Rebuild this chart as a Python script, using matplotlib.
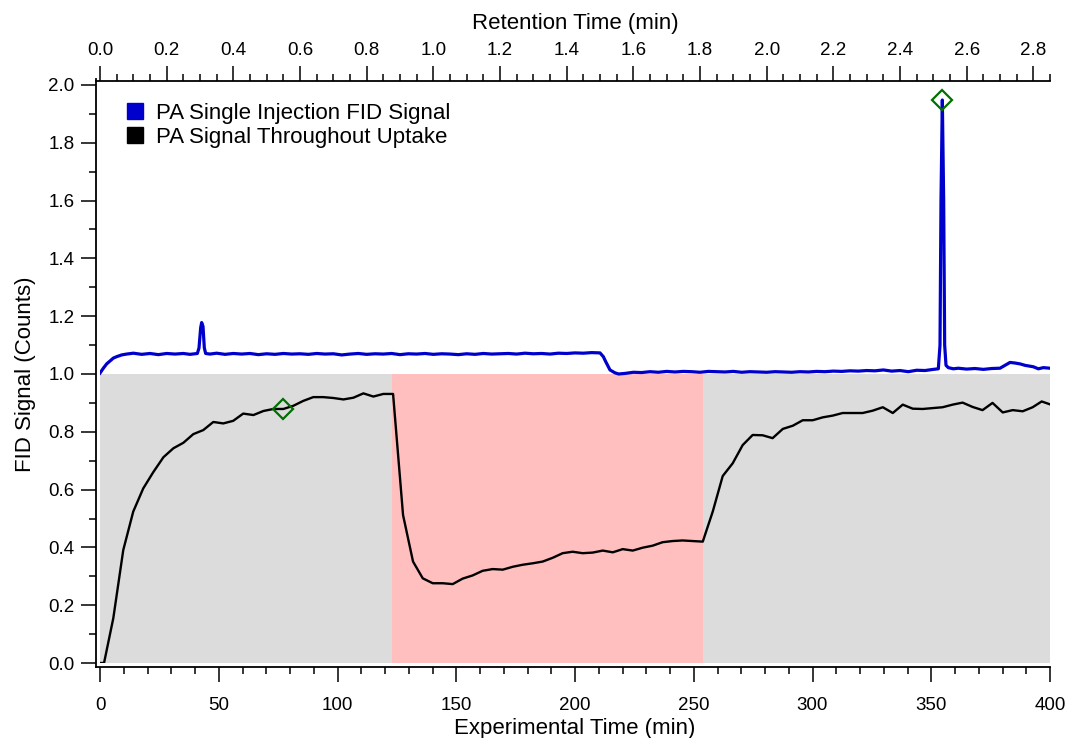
import matplotlib
matplotlib.use("Agg")
import matplotlib.pyplot as plt
from matplotlib.lines import Line2D
from matplotlib.ticker import MultipleLocator

plt.rcParams['font.family'] = ['Liberation Sans', 'DejaVu Sans']

# ---------------- data ----------------
# PA signal throughout uptake (bottom axis: experimental time, min)
exp_time = [0.0, 1.7, 5.6, 9.8, 14.0, 18.2, 22.4, 26.7, 30.9, 35.1, 39.3, 43.5, 47.7,
            51.9, 56.1, 60.3, 64.6, 68.8, 73.0, 77.2, 81.4, 85.6, 89.8, 94.0, 98.2,
            102.5, 106.7, 110.9, 115.1, 119.3, 123.4, 127.6, 131.8, 135.9, 140.1,
            144.3, 148.5, 152.7, 156.9, 161.1, 165.3, 169.6, 173.8, 178.0, 182.2,
            186.4, 190.6, 194.8, 199.0, 203.2, 207.4, 211.7, 215.9, 220.1, 224.3,
            228.5, 232.7, 236.9, 241.1, 245.3, 249.5, 253.8, 258.0, 262.2, 266.4,
            270.6, 274.8, 279.0, 283.2, 287.5, 291.7, 295.9, 300.1, 304.3, 308.5,
            312.7, 316.9, 321.1, 325.3, 329.6, 333.8, 338.0, 342.2, 346.4, 350.6,
            354.8, 359.0, 363.2, 367.4, 371.6, 375.8, 380.1, 384.3, 388.5, 392.7,
            396.5, 400.0]
uptake_signal = [0.000, 0.000, 0.155, 0.391, 0.524, 0.604, 0.660, 0.712, 0.743, 0.762,
                 0.792, 0.806, 0.834, 0.829, 0.838, 0.863, 0.858, 0.872, 0.879, 0.879,
                 0.890, 0.907, 0.920, 0.920, 0.917, 0.912, 0.918, 0.933, 0.922, 0.931,
                 0.931, 0.512, 0.351, 0.293, 0.276, 0.276, 0.273, 0.292, 0.303, 0.319,
                 0.325, 0.323, 0.333, 0.340, 0.345, 0.351, 0.364, 0.380, 0.385, 0.380,
                 0.382, 0.389, 0.383, 0.394, 0.389, 0.399, 0.406, 0.418, 0.422, 0.424,
                 0.422, 0.420, 0.524, 0.647, 0.691, 0.754, 0.789, 0.788, 0.778, 0.810,
                 0.821, 0.840, 0.840, 0.850, 0.856, 0.865, 0.865, 0.865, 0.873, 0.885,
                 0.865, 0.894, 0.880, 0.879, 0.882, 0.885, 0.894, 0.901, 0.886, 0.875,
                 0.900, 0.867, 0.875, 0.871, 0.885, 0.905, 0.895]

# PA single injection FID signal (top axis: retention time, min)
ret_time = [0.000, 0.010, 0.020, 0.030, 0.040, 0.050, 0.065, 0.080, 0.100, 0.125,
            0.150, 0.175, 0.200, 0.225, 0.250, 0.270, 0.292, 0.297, 0.302, 0.305,
            0.309, 0.313, 0.317, 0.330, 0.350, 0.375, 0.400, 0.425, 0.450, 0.475,
            0.500, 0.525, 0.550, 0.575, 0.600, 0.625, 0.650, 0.675, 0.700, 0.725,
            0.750, 0.775, 0.800, 0.825, 0.850, 0.875, 0.900, 0.925, 0.950, 0.975,
            1.000, 1.025, 1.050, 1.075, 1.100, 1.125, 1.150, 1.175, 1.200, 1.225,
            1.250, 1.275, 1.300, 1.325, 1.350, 1.375, 1.400, 1.425, 1.450, 1.475,
            1.500, 1.510, 1.517, 1.530, 1.545, 1.556, 1.575, 1.600, 1.625, 1.650,
            1.675, 1.700, 1.725, 1.750, 1.775, 1.800, 1.825, 1.850, 1.875, 1.900,
            1.925, 1.950, 1.975, 2.000, 2.025, 2.050, 2.075, 2.100, 2.125, 2.150,
            2.175, 2.200, 2.225, 2.250, 2.275, 2.300, 2.325, 2.350, 2.375, 2.400,
            2.425, 2.450, 2.475, 2.500, 2.515, 2.520, 2.523, 2.527, 2.531, 2.534,
            2.538, 2.545, 2.560, 2.575, 2.600, 2.625, 2.650, 2.675, 2.700, 2.715,
            2.730, 2.745, 2.760, 2.775, 2.800, 2.815, 2.830, 2.850]
fid_signal = [1.003, 1.020, 1.035, 1.045, 1.055, 1.060, 1.066, 1.069, 1.072, 1.068,
              1.071, 1.067, 1.071, 1.069, 1.071, 1.068, 1.071, 1.090, 1.160, 1.178,
              1.165, 1.090, 1.071, 1.069, 1.072, 1.068, 1.071, 1.069, 1.071, 1.067,
              1.070, 1.068, 1.071, 1.069, 1.070, 1.068, 1.071, 1.069, 1.070, 1.066,
              1.069, 1.071, 1.068, 1.070, 1.069, 1.071, 1.067, 1.070, 1.069, 1.071,
              1.068, 1.070, 1.069, 1.067, 1.070, 1.068, 1.071, 1.069, 1.070, 1.071,
              1.069, 1.072, 1.070, 1.071, 1.069, 1.072, 1.071, 1.073, 1.072, 1.074,
              1.073, 1.060, 1.043, 1.014, 1.004, 1.000, 1.002, 1.006, 1.005, 1.008,
              1.006, 1.009, 1.007, 1.009, 1.008, 1.006, 1.009, 1.008, 1.007, 1.009,
              1.006, 1.008, 1.007, 1.006, 1.008, 1.007, 1.006, 1.008, 1.007, 1.009,
              1.008, 1.010, 1.009, 1.011, 1.010, 1.012, 1.011, 1.014, 1.010, 1.012,
              1.008, 1.013, 1.012, 1.016, 1.018, 1.100, 1.600, 1.948, 1.600, 1.100,
              1.030, 1.022, 1.018, 1.020, 1.017, 1.019, 1.016, 1.019, 1.020, 1.030,
              1.040, 1.038, 1.035, 1.030, 1.025, 1.018, 1.022, 1.020]

# highlighted points
marker_exp = [76.9]
marker_uptake = [0.879]
marker_ret = [2.527]
marker_fid = [1.948]

# shaded phases (experimental time)
phase_edges = [-1.7, 122.8, 254.0, 400.0]
phase_colors = ['#dcdcdc', '#ffbfbf', '#dcdcdc']
shade_top = 1.0

legend_labels = ['PA Single Injection FID Signal', 'PA Signal Throughout Uptake']
blue = '#0000cd'
green = '#007000'

# ---------------- figure ----------------
W, H = 1068, 738
fig = plt.figure(figsize=(W / 100, H / 100), dpi=100)
L, R, T, B = 100, 1050, 85, 663
ax = fig.add_axes([L / W, 1 - B / H, (R - L) / W, (B - T) / H])
ax.set_xlim(0, 400)
ax.set_ylim(0, 2)

for i in range(len(phase_colors)):
    ax.fill_between([phase_edges[i], phase_edges[i + 1]], 0, shade_top,
                    color=phase_colors[i], lw=0, zorder=0)

ax.plot(exp_time, uptake_signal, color='black', lw=1.7, zorder=3)
ax.plot(marker_exp, marker_uptake, ls='', marker='D', ms=10, mfc='none',
        mec=green, mew=1.6, zorder=4)

ax2 = ax.twiny()
ax2.set_xlim(0, 2.85)
ax2.set_ylim(0, 2)
ax2.plot(ret_time, fid_signal, color=blue, lw=2.3, zorder=3)
ax2.plot(marker_ret, marker_fid, ls='', marker='D', ms=10, mfc='none',
         mec=green, mew=1.6, zorder=4)

# spines (detached, Igor style)
off = 3
for a in (ax, ax2):
    for s in a.spines.values():
        s.set_visible(False)
ax.spines['left'].set_visible(True)
ax.spines['left'].set_position(('outward', off))
ax.spines['left'].set_bounds(-0.014, 2.02)
ax.spines['bottom'].set_visible(True)
ax.spines['bottom'].set_position(('outward', off))
ax.spines['bottom'].set_bounds(-1.7, 400)
ax2.spines['top'].set_visible(True)
ax2.spines['top'].set_position(('outward', off))
ax2.spines['top'].set_bounds(-0.012, 2.85)
for s in (ax.spines['left'], ax.spines['bottom'], ax2.spines['top']):
    s.set_linewidth(1.3)

ax.xaxis.set_major_locator(MultipleLocator(50))
ax.xaxis.set_minor_locator(MultipleLocator(10))
ax.yaxis.set_major_locator(MultipleLocator(0.2))
ax.yaxis.set_minor_locator(MultipleLocator(0.1))
ax2.xaxis.set_major_locator(MultipleLocator(0.2))
ax2.xaxis.set_minor_locator(MultipleLocator(0.05))
ax.yaxis.set_major_formatter(plt.FuncFormatter(lambda v, p: f"{v:.1f}"))
ax2.xaxis.set_major_formatter(plt.FuncFormatter(lambda v, p: f"{v:.1f}"))
ax.xaxis.set_major_formatter(plt.FuncFormatter(lambda v, p: f"{v:.0f}"))

for a in (ax, ax2):
    a.tick_params(which='major', direction='out', length=10.5, width=1.1,
                  labelsize=13.5, pad=5)
    a.tick_params(which='minor', direction='out', length=5, width=1.1)
ax.tick_params(axis='x', which='both', top=False)
ax.tick_params(axis='x', which='major', pad=11)
ax.tick_params(axis='y', which='both', right=False)
ax2.tick_params(axis='y', which='both', left=False, right=False, labelleft=False, labelright=False)
ax2.tick_params(axis='x', which='both', bottom=False, top=True)

ax.set_xlabel('Experimental Time (min)', fontsize=16, labelpad=3)
ax.set_ylabel('FID Signal (Counts)', fontsize=16, labelpad=9)
ax2.set_xlabel('Retention Time (min)', fontsize=16, labelpad=9.5)

handles = [Line2D([], [], ls='', marker='s', ms=11.5, color=blue),
           Line2D([], [], ls='', marker='s', ms=11.5, color='black')]
ax2.legend(handles, legend_labels, loc='upper left', bbox_to_anchor=(0.0274, 0.969),
           frameon=False, fontsize=16, handlelength=0.8, handletextpad=0.54,
           labelspacing=0.13, borderpad=0, borderaxespad=0)

fig.savefig('out.png', dpi=100)
